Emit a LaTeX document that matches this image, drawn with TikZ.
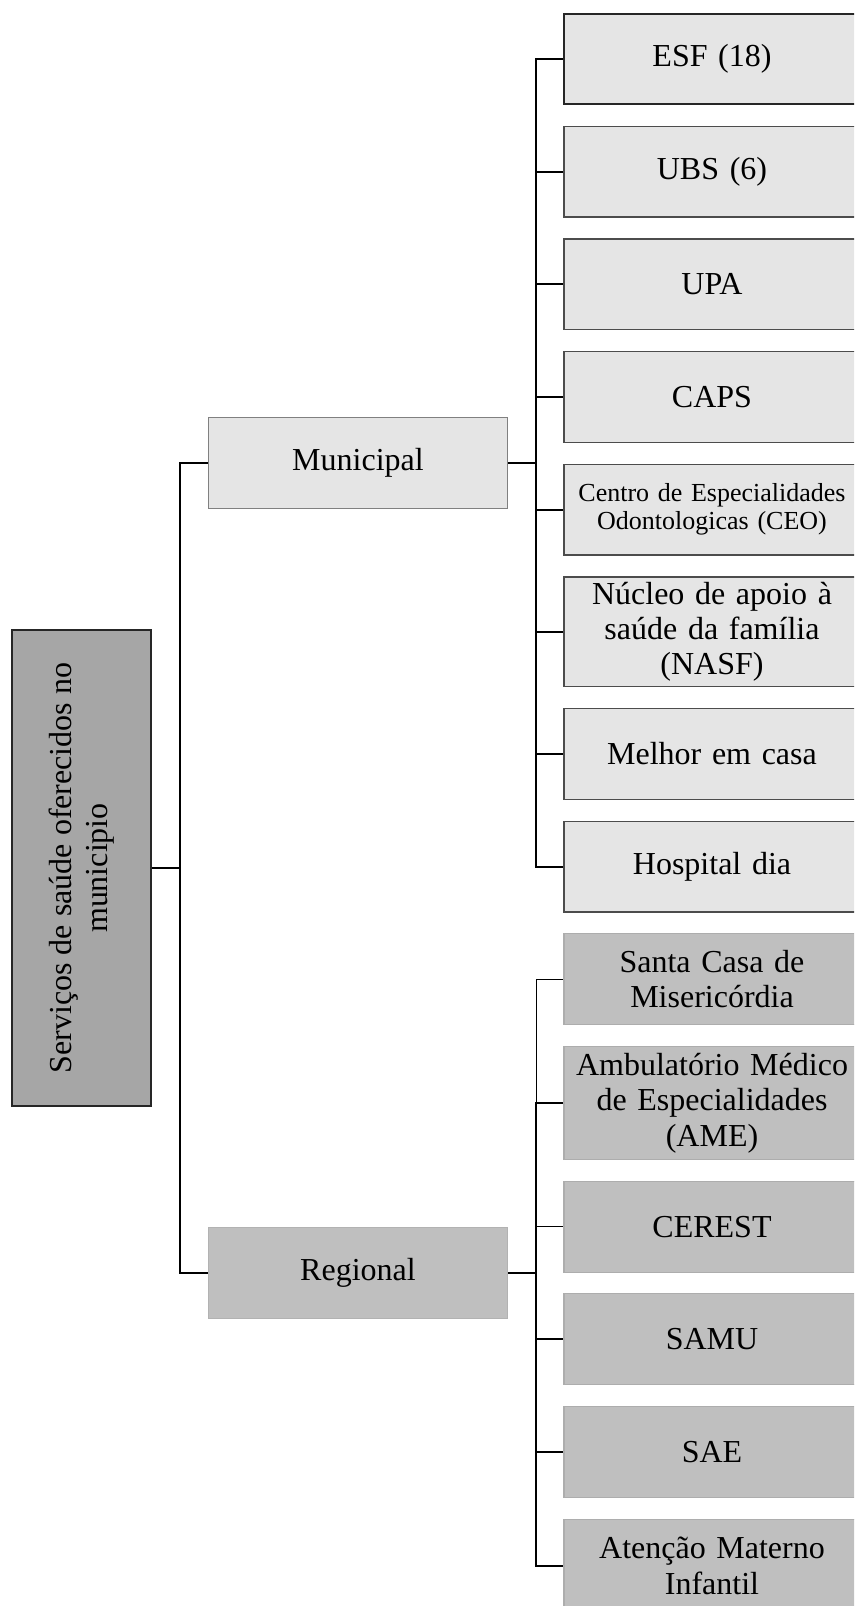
\documentclass[tikz,border=0pt]{standalone}
\usepackage{fontspec}
\setmainfont{Liberation Serif}
\usetikzlibrary{positioning}
\tikzstyle{root} = [draw=black!85, line width=1.5pt, fill=black!35, rotate=90,
    minimum width=357pt, minimum height=104.25pt, align=center]
\tikzstyle{municipal} = [draw=black!50, line width=0.8pt, fill=black!10, rectangle,
    minimum width=224.2pt, minimum height=68.2pt]
\tikzstyle{regional} = [draw=black!30, line width=0.8pt, fill=black!25, rectangle,
    minimum width=224.2pt, minimum height=68.2pt]
\tikzstyle{mchild} = [draw=black!70, line width=1pt, fill=black!10, rectangle,
    minimum width=222pt, minimum height=68pt, text width=214pt, align=center, inner sep=2pt]
\tikzstyle{rchild} = [draw=black!32, line width=0.8pt, fill=black!25, rectangle,
    minimum width=222pt, minimum height=68.2pt, text width=214pt, align=center, inner sep=2pt]
\tikzstyle{link} = [line width=1.5pt]
\tikzstyle{thinlink} = [line width=0.75pt]

\begin{document}
\begin{tikzpicture}[x=0.75pt, y=0.75pt, node distance=15.5pt,
    font=\fontsize{24}{26.5}\selectfont]
    \useasboundingbox (0,0) rectangle (854,-1606);
    \clip (0,0) rectangle (854,-1606);
    % levels 0 and 1
    \node [root] (servicos) at (81.5,-868) {Serviços de saúde oferecidos no\\ municipio};
    \node [municipal] (municipal) at (358,-463) {Municipal};
    \node [regional] (regional) at (358,-1273) {Regional};
    % municipal services
    \node [mchild, draw=black!85, line width=1.2pt, minimum height=67.8pt] (esf) at (712,-59) {ESF (18)};
    \node [mchild, below=of esf] (ubs) {UBS (6)};
    \node [mchild, below=of ubs] (upa) {UPA};
    \node [mchild, below=of upa] (caps) {CAPS};
    \node [mchild, below=of caps, font=\fontsize{19.5}{21}\selectfont] (ceo) {Centro de Especialidades\\ Odontologicas (CEO)};
    \node [mchild, below=of ceo, minimum height=82.25pt] (nasf) {Núcleo de apoio à\\ saúde da família\\ (NASF)};
    \node [mchild, below=of nasf] (melhor) {Melhor em casa};
    \node [mchild, below=of melhor] (hospital) {Hospital dia};
    % regional services
    \node [rchild, below=of hospital] (santacasa) {Santa Casa de\\ Misericórdia};
    \node [rchild, below=of santacasa, minimum height=84.7pt] (ame) {Ambulatório Médico\\ de Especialidades\\ (AME)};
    \node [rchild, below=of ame] (cerest) {CEREST};
    \node [rchild, below=of cerest] (samu) {SAMU};
    \node [rchild, below=of samu] (sae) {SAE};
    \node [rchild, below=of sae, minimum height=70pt] (materno) {Atenção Materno\\ Infantil};
    % connectors (servicos is rotated: its south side faces right)
    \draw [link] (servicos.south) -- ++(28,0) |- (municipal.west);
    \draw [link] (servicos.south) -- ++(28,0) |- (regional.west);
    \draw [link] (municipal.east) -- ++(28,0) |- (esf.west);
    \draw [link] (municipal.east) -- ++(28,0) |- (ubs.west);
    \draw [link] (municipal.east) -- ++(28,0) |- (upa.west);
    \draw [link] (municipal.east) -- ++(28,0) |- (caps.west);
    \draw [link] (municipal.east) -- ++(28,0) |- (ceo.west);
    \draw [link] (municipal.east) -- ++(28,0) |- (nasf.west);
    \draw [link] (municipal.east) -- ++(28,0) |- (melhor.west);
    \draw [link] (municipal.east) -- ++(28,0) |- (hospital.west);
    \draw [thinlink] (regional.east) -- ++(28,0) |- (santacasa.west);
    \draw [link] (regional.east) -- ++(28,0) |- (ame.west);
    \draw [thinlink] (regional.east) -- ++(28,0) |- (cerest.west);
    \draw [link] (regional.east) -- ++(28,0) |- (samu.west);
    \draw [link] (regional.east) -- ++(28,0) |- (sae.west);
    \draw [link] (regional.east) -- ++(28,0) |- (materno.west);
\end{tikzpicture}
\end{document}
